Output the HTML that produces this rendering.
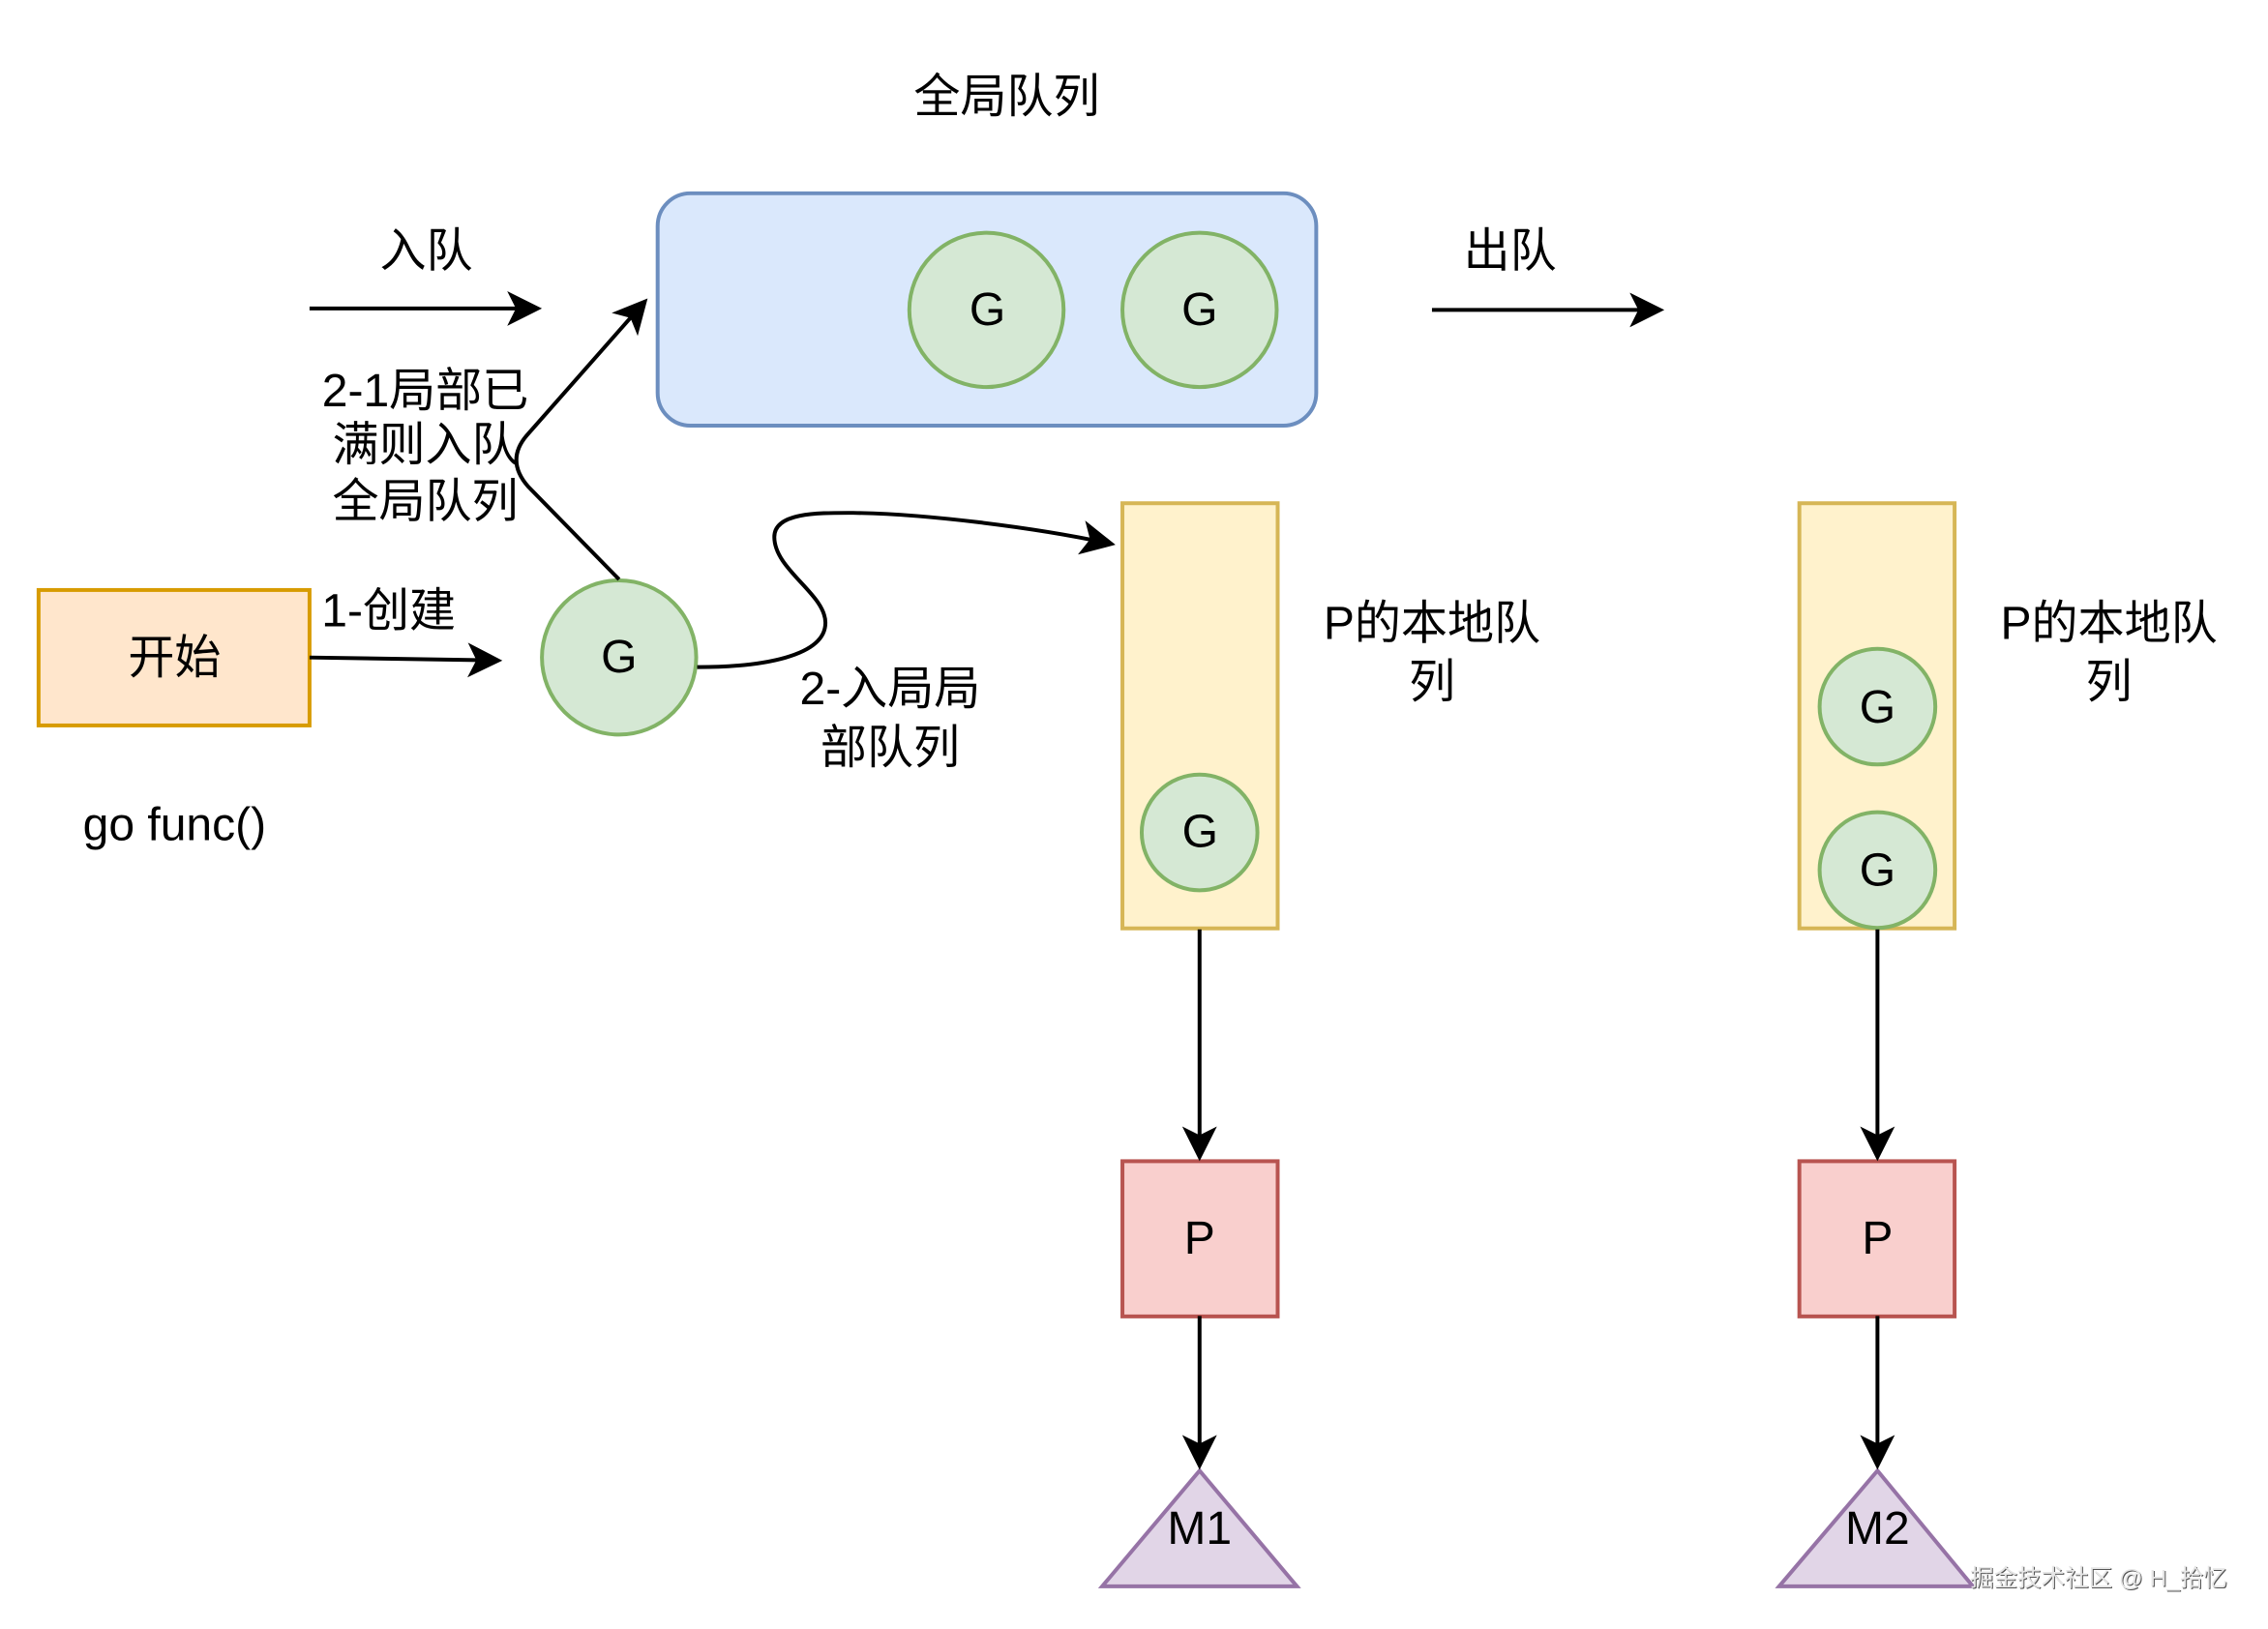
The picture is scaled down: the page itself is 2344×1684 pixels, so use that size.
<!DOCTYPE html>
<html>
<head>
<meta charset="utf-8">
<style>
html,body{margin:0;padding:0;background:#fff;width:2344px;height:1684px;overflow:hidden}
svg{display:block}
text{font-family:"Liberation Sans","Noto Sans CJK SC",sans-serif;font-size:48.2px;fill:#000;text-anchor:middle;dominant-baseline:central}
</style>
</head>
<body>
<svg width="2344" height="1684" viewBox="0 0 2344 1684" xmlns="http://www.w3.org/2000/svg">
<defs>
<marker id="a" markerUnits="userSpaceOnUse" markerWidth="40" markerHeight="40" viewBox="0 -20 40 40" refX="26" refY="0" orient="auto">
<path d="M36 0L0 -18L9 0L0 18Z" fill="#000"/>
</marker>
</defs>
<rect width="2344" height="1684" fill="#fff"/>
<g transform="scale(.9966)">
<rect x="682" y="200.500" width="683" height="241" rx="34" fill="#dae8fc" stroke="#6c8ebf" stroke-width="4"/>
<circle cx="1023" cy="321.500" r="80" fill="#d5e8d4" stroke="#82b366" stroke-width="4"/>
<circle cx="1244" cy="321.500" r="80" fill="#d5e8d4" stroke="#82b366" stroke-width="4"/>

<rect x="40" y="612" width="281" height="140.500" fill="#ffe6cc" stroke="#d79b00" stroke-width="4"/>
<circle cx="642" cy="682" r="80" fill="#d5e8d4" stroke="#82b366" stroke-width="4"/>

<rect x="1164" y="522" width="161" height="441" fill="#fff2cc" stroke="#d6b656" stroke-width="4"/>
<rect x="1866" y="522" width="161" height="441" fill="#fff2cc" stroke="#d6b656" stroke-width="4"/>
<circle cx="1244" cy="863.500" r="60" fill="#d5e8d4" stroke="#82b366" stroke-width="4"/>
<circle cx="1947" cy="733" r="60" fill="#d5e8d4" stroke="#82b366" stroke-width="4"/>
<circle cx="1947" cy="902.500" r="60" fill="#d5e8d4" stroke="#82b366" stroke-width="4"/>

<rect x="1164" y="1204.500" width="161" height="161" fill="#f9cfcd" stroke="#b85450" stroke-width="4"/>
<rect x="1866" y="1204.500" width="161" height="161" fill="#f9cfcd" stroke="#b85450" stroke-width="4"/>

<path d="M1244 1525.500L1345 1645.500H1143Z" fill="#e1d5e7" stroke="#9673a6" stroke-width="4"/>
<path d="M1947 1525.500L2046 1645.500H1845Z" fill="#e1d5e7" stroke="#9673a6" stroke-width="4"/>

<g fill="none" stroke="#000" stroke-width="4">
<path d="M321 320H552" marker-end="url(#a)"/>
<path d="M1485 321.500H1716" marker-end="url(#a)"/>
<path d="M321 682L511 685" marker-end="url(#a)"/>
<path d="M642 601L548 505Q524 478 546 452L665 317" marker-end="url(#a)"/>
<path d="M723 692C790 692 856 681 856 646C856 616 803 591 803 557C803 531 850 532 885 532C960 533 1072 547 1147 563" marker-end="url(#a)"/>
<path d="M1244 964V1194.500" marker-end="url(#a)"/>
<path d="M1947 964V1194.500" marker-end="url(#a)"/>
<path d="M1244 1365V1514.500" marker-end="url(#a)"/>
<path d="M1947 1365V1514.500" marker-end="url(#a)"/>
</g>

<text x="1044" y="101">全局队列</text>
<text x="442" y="261">入队</text>
<text x="1566" y="261">出队</text>
<text x="441" y="406">2-1局部已</text>
<text x="441" y="462">满则入队</text>
<text x="441" y="521">全局队列</text>
<text x="403" y="634">1-创建</text>
<text x="181" y="683">开始</text>
<text x="181" y="856">go func()</text>
<text x="923" y="715">2-入局局</text>
<text x="923" y="776">部队列</text>
<text x="1485" y="647">P的本地队</text>
<text x="1485" y="708">列</text>
<text x="2187" y="647">P的本地队</text>
<text x="2187" y="708">列</text>
<text x="1024" y="321.500">G</text>
<text x="1244" y="321.500">G</text>
<text x="642" y="682">G</text>
<text x="1244.500" y="863">G</text>
<text x="1947" y="734">G</text>
<text x="1947" y="903">G</text>
<text x="1244" y="1285">P</text>
<text x="1947" y="1285">P</text>
<text x="1244" y="1586">M1</text>
<text x="1947" y="1586">M2</text>
</g>
<text x="2170" y="1633" style="font-size:24.500px;fill:#555">掘金技术社区 @ H_拾忆</text>
<text x="2169" y="1632" style="font-size:24.500px;fill:#e6e6e6">掘金技术社区 @ H_拾忆</text>
</svg>
</body>
</html>
